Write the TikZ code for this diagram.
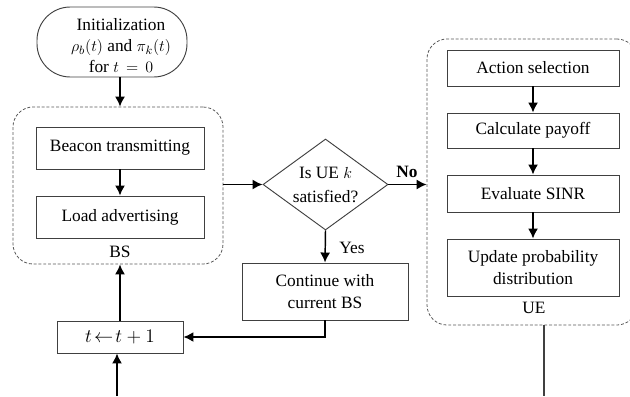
\documentclass[tikz,border=0pt]{standalone}
\usepackage{fontspec}
\setmainfont{Liberation Serif}
\newfontfamily\labelfont{Liberation Serif}
\usetikzlibrary{arrows.meta,shapes.geometric}
\begin{document}
\begin{tikzpicture}[x=0.75pt,y=-0.75pt,
  every node/.style={font=\labelfont\fontsize{13}{16}\selectfont},
  stepbox/.style={draw=black!75, line width=0.7pt, inner sep=0pt, align=center},
  group/.style={draw=black!65, line width=0.6pt, dash pattern=on 2.2pt off 1.4pt,
                rounded corners=15pt, inner sep=0pt},
  flow/.style={line width=1.1pt, -{Latex[length=7.5pt,width=7.5pt]}},
  plain/.style={line width=1.1pt, black!75},
]
\useasboundingbox (0,0) rectangle (630,396);

% dashed groups
\node[group, minimum width=157.5pt, minimum height=117.75pt] (bs) at (118,185.5) {};
\node[group, minimum width=157.5pt, minimum height=214.5pt] (ue) at (532,182) {};

% start terminal
\node[draw=black!75, line width=0.7pt, rounded corners=25pt,
      minimum width=112.5pt, minimum height=52.5pt] (init) at (112,42) {};
\node[align=center, font=\labelfont\fontsize{13}{15.75}\selectfont] (inittext) at (121,46)
  {Initialization\\ $\rho_b(t)$ and $\pi_k(t)$\\ for $t\,=\,0$};

% base-station steps
\node[stepbox, minimum width=126pt, minimum height=31.5pt] (beacon) at (120,148) {Beacon transmitting};
\node[stepbox, minimum width=126pt, minimum height=31.5pt] (load) at (120,217) {Load advertising};
\node (bslabel) at (120,252) {BS};

% decision
\node[draw=black!75, line width=0.7pt, shape=diamond, aspect=1.37, inner sep=0pt,
      minimum width=93.75pt, minimum height=68.25pt, align=center,
      font=\labelfont\fontsize{13}{18}\selectfont] (dia) at (325.5,184.5) {Is UE $k$\\ satisfied?};
\node (no) at (407,172) {\textbf{No}};
\node (yes) at (352,248) {Yes};

\node[stepbox, minimum width=124.5pt, minimum height=42.75pt,
      font=\labelfont\fontsize{13}{16.5}\selectfont] (cont) at (325,291.5) {Continue with\\ current BS};
\node[stepbox, minimum width=94.5pt, minimum height=24pt] (tbox) at (120,337)
  {\fontsize{14}{16}\selectfont$t\!\leftarrow\! t+1$};

% user-equipment steps
\node[stepbox, minimum width=129pt, minimum height=27pt] (act) at (533,68) {Action selection};
\node[stepbox, minimum width=129pt, minimum height=26.25pt] (calc) at (533,130.5) {Calculate payoff};
\node[stepbox, minimum width=129pt, minimum height=27.75pt] (eval) at (533,193.5) {Evaluate SINR};
\node[stepbox, minimum width=129pt, minimum height=42.75pt,
      font=\labelfont\fontsize{13}{17}\selectfont] (upd) at (533,267.5) {Update probability\\ distribution};
\node (uelabel) at (534,308) {UE};

% loose ends at the bottom
\coordinate (tin) at (117,396);
\coordinate (uout) at (544,396);

% connectors
\draw[flow] (init.south -| beacon.north) -- (bs.north -| beacon.north);
\draw[flow] (beacon) -- (load);
\draw[flow] (bs.east |- dia.west) -- (dia.west);
\draw[flow] (dia.east) -- (ue.west |- dia.east);
\draw[flow] (dia.south) -- (cont.north);
\draw[flow] (cont.south) |- (tbox.east);
\draw[flow] (tbox.north) -- (bs.south -| tbox.north);
\draw[flow] (tin) -- (tin |- tbox.south);
\draw[flow] (act) -- (calc);
\draw[flow] (calc) -- (eval);
\draw[flow] (eval) -- (upd);
\draw[plain] (uout |- ue.south) -- (uout);
\end{tikzpicture}
\end{document}
